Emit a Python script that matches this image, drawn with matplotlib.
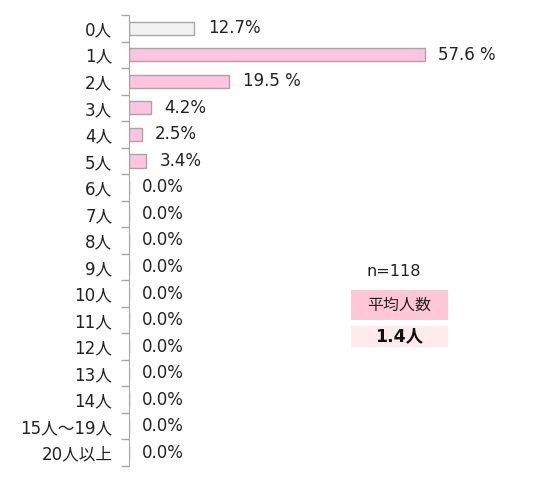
import matplotlib
matplotlib.use('Agg')
import matplotlib.pyplot as plt
from matplotlib.patches import Rectangle

plt.rcParams['font.family'] = ['DejaVu Sans', 'Noto Sans CJK JP']

categories = ['0人', '1人', '2人', '3人', '4人', '5人', '6人', '7人', '8人', '9人',
              '10人', '11人', '12人', '13人', '14人', '15人～19人', '20人以上']
values = [12.7, 57.6, 19.5, 4.2, 2.5, 3.4, 0, 0, 0, 0, 0, 0, 0, 0, 0, 0, 0]
labels = ['12.7%', '57.6 %', '19.5 %', '4.2%', '2.5%', '3.4%'] + ['0.0%'] * 11
sampleText = 'n=118'
avgTitle = '平均人数'
avgValue = '1.4人'

W, H = 539, 486
fig = plt.figure(figsize=(W / 100, H / 100), dpi=100)
ax = fig.add_axes([129 / W, (H - 466) / H, (W - 129) / W, (466 - 15) / H])

colors = ['#F2F2F2'] + ['#FFC4DF'] * (len(values) - 1)
ypos = list(range(len(categories)))
ax.barh(ypos, values, height=0.5, color=colors, edgecolor='#A6A6A6', linewidth=1)

for y, v, lab in zip(ypos, values, labels):
    ax.text(v + 2.6, y, lab, va='center', ha='left', fontsize=12, color='#222222')

ax.set_ylim(len(categories) - 0.5, -0.5)
ax.set_xlim(0, (W - 129) / 5.14)
ax.set_yticks(ypos)
ax.set_yticklabels(categories, fontsize=12, color='#222222')
ax.set_yticks([i - 0.5 for i in range(len(categories) + 1)], minor=True)
ax.tick_params(axis='y', which='major', length=0, pad=12)
ax.tick_params(axis='y', which='minor', length=6, color='#A6A6A6', width=1)
ax.set_xticks([])
for s in ['top', 'right', 'bottom']:
    ax.spines[s].set_visible(False)
ax.spines['left'].set_color('#A6A6A6')

# summary boxes
fig.text(394 / W, 1 - 271 / H, sampleText, ha='center', va='center', fontsize=11.5, color='#222222')
fig.patches.append(Rectangle((351 / W, 1 - 320 / H), 97 / W, 30 / H, transform=fig.transFigure,
                             facecolor='#FFC7D8', edgecolor='none'))
fig.text(399 / W, 1 - 305 / H, avgTitle, ha='center', va='center', fontsize=11.5, color='#222222')
fig.patches.append(Rectangle((351 / W, 1 - 347 / H), 97 / W, 21 / H, transform=fig.transFigure,
                             facecolor='#FFEAF0', edgecolor='none'))
fig.text(399 / W, 1 - 336.5 / H, avgValue, ha='center', va='center', fontsize=12.5,
         fontweight='bold', color='#111111')

fig.savefig('out.png', dpi=100)
